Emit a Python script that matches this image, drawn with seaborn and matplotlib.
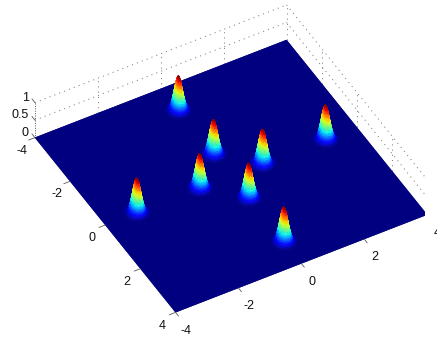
import numpy as np
import seaborn as sns
import matplotlib
matplotlib.use("Agg")
import matplotlib.pyplot as plt
from matplotlib.colors import ListedColormap

sns.set_theme(style="white")
plt.rcParams["font.family"] = ["Liberation Sans", "DejaVu Sans"]

peak_x = [0, 0, 1, 3, -1, 0, -3, 0]
peak_y = [-3, -1, 0, 0, 0, 1, 0, 3]
peak_height = [1, 1, 1, 1, 1, 1, 1, 1]
peak_sigma = 0.118
x_ticks = [-4, -2, 0, 2, 4]
y_ticks = [-4, -2, 0, 2, 4]
z_ticks = [0, 0.5, 1]
z_tick_labels = ["0", "0.5", "1"]

grid_x = np.linspace(-4, 4, 401)
grid_y = np.linspace(-4, 4, 401)
X, Y = np.meshgrid(grid_x, grid_y)
Z = np.zeros_like(X)
for px, py, ph in zip(peak_x, peak_y, peak_height):
    Z += ph * np.exp(-((X - px) ** 2 + (Y - py) ** 2) / (2 * peak_sigma ** 2))

W = 398.5
cx, cy = 225.65, 175.95
fig = plt.figure(figsize=(4.37, 3.40), dpi=100, facecolor="white")
ax = fig.add_axes([(cx - W / 2) / 437, (cy - W / 2) / 340, W / 437, W / 340],
                  projection="3d", proj_type="ortho")
ax.set_box_aspect((288.8, 288.8, 48.7), zoom=1.0)
ax.view_init(elev=44, azim=-119.2)
ax.set_xlim(-4, 4)
ax.set_ylim(4, -4)
ax.set_zlim(0, 1)
ax.set_xticks([])
ax.set_yticks([])
ax.set_zticks([])
ax.set_axis_off()

jet = ListedColormap(sns.mpl_palette("jet", 256))
ax.plot_surface(X, Y, Z, facecolors=jet(np.clip(Z, 0, 1)), rcount=401, ccount=401,
                linewidth=0.25, antialiased=True, shade=False, zorder=2)

grid_style = dict(color="0.5", lw=0.75, ls=(0, (1, 4)), zorder=1)
for z in z_ticks[1:]:
    ax.plot([-4, 4], [-4, -4], [z, z], **grid_style)
    ax.plot([4, 4], [-4, 4], [z, z], **grid_style)
for x in x_ticks[1:]:
    ax.plot([x, x], [-4, -4], [0, 1], **grid_style)
for y in y_ticks[1:-1]:
    ax.plot([4, 4], [y, y], [0, 1], **grid_style)
ax.plot([4, 4], [4, 4], [0, 1], **grid_style)
ax.plot([-4, -4], [-4, -4], [0, 1], color="0.35", lw=0.7, ls=(0, (1, 1.5)), zorder=1)

tick_style = dict(color="0.35", lw=0.6, zorder=3)
text_style = dict(color="#111111", fontsize=9)
for x in x_ticks:
    ax.plot([x, x], [4, 4.17], [0, 0], **tick_style)
    ax.text(x, 4.58, -0.16, str(x), ha="center", va="center", **text_style)
for y in y_ticks:
    ax.plot([-4, -4.2], [y, y], [0, 0], **tick_style)
    ax.text(-4.42, y, -0.23, str(y), ha="center", va="center", **text_style)
for z, lab in zip(z_ticks, z_tick_labels):
    ax.plot([-4, -4], [-4, -4.17], [z, z], **tick_style)
    ax.text(-4, -4.35, z - 0.08, lab, ha="right", va="center", **text_style)

fig.savefig("out.png", dpi=100, facecolor="white")
